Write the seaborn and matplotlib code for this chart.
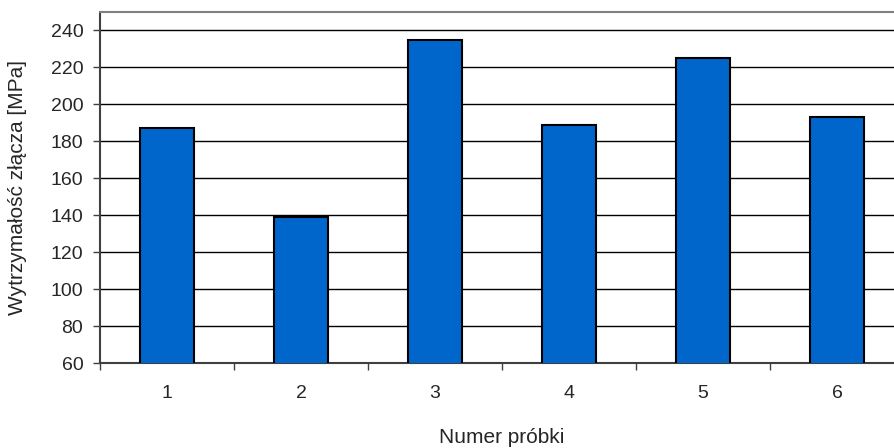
import matplotlib
matplotlib.use("Agg")
import matplotlib.pyplot as plt
import numpy as np
import pandas as pd
import seaborn as sns

samples = ["1", "2", "3", "4", "5", "6"]
strength = [187, 139, 235, 189, 225, 193]
y_ticks = [60, 80, 100, 120, 140, 160, 180, 200, 220, 240]

sns.set_style("white")
plt.rcParams["font.family"] = ["Liberation Sans", "DejaVu Sans"]

df = pd.DataFrame({"sample": samples, "strength": strength})

fig = plt.figure(figsize=(8.95, 4.48), dpi=100)
ax = fig.add_axes([100 / 895, 85 / 448, 1 - 100 / 895 + 0.01, (363 - 12) / 448])

sns.barplot(data=df, x="sample", y="strength", color="#0066CC", saturation=1,
            width=0.4, edgecolor="black", linewidth=1.5, ax=ax, zorder=3)

ax.set_ylim(60, 250)
ax.set_xlim(-0.5, len(samples) - 0.5)
ax.set_yticks(y_ticks)
ax.yaxis.grid(True, color="black", linewidth=1.0, zorder=0)
ax.set_axisbelow(True)

# ticks at category boundaries, labels at centres
ax.set_xticks(np.arange(len(samples)))
ax.set_xticklabels(samples)
ax.set_xticks(np.arange(len(samples) + 1) - 0.5, minor=True)
ax.tick_params(axis="x", which="major", length=0, pad=16, labelsize=14)
ax.tick_params(axis="x", which="minor", length=5, width=1, color="#404040",
               direction="out", bottom=True)
ax.tick_params(axis="y", length=5, width=1, color="#404040", direction="out",
               left=True, labelsize=14, pad=7)

for side in ["left", "bottom"]:
    ax.spines[side].set_color("#404040")
    ax.spines[side].set_linewidth(1.5)
ax.spines["top"].set_color("#808080")
ax.spines["top"].set_linewidth(1.5)
ax.spines["right"].set_visible(False)

ax.set_xlabel("Numer próbki", fontsize=15)
ax.set_ylabel("Wytrzymałość złącza [MPa]", fontsize=15)
ax.xaxis.set_label_coords(0.5, -65 / 351)
ax.yaxis.set_label_coords(-72 / 795, 0.5)

fig.savefig("out.png", dpi=100)
